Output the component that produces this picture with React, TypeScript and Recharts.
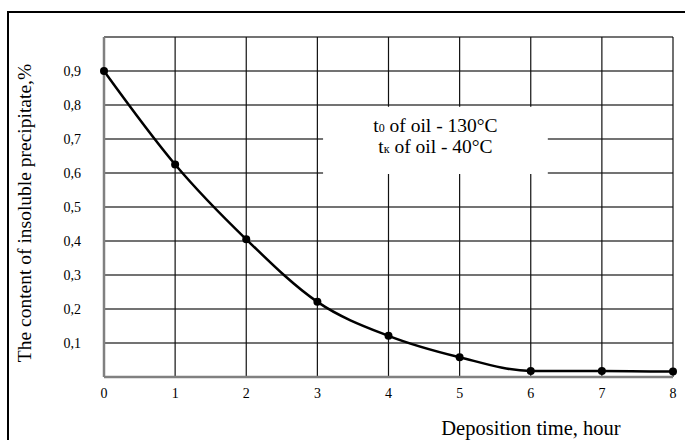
import { LineChart, Line, XAxis, YAxis, CartesianGrid, ReferenceArea } from "recharts";

// deposition time, hours
const hours = [0, 1, 2, 3, 4, 5, 6, 7, 8];
// insoluble precipitate content, %
const precipitate = [0.9, 0.625, 0.405, 0.221, 0.121, 0.058, 0.018, 0.018, 0.016];
const yTicks = [0, 0.1, 0.2, 0.3, 0.4, 0.5, 0.6, 0.7, 0.8, 0.9, 1.0];
const yLabels = ["", "0,1", "0,2", "0,3", "0,4", "0,5", "0,6", "0,7", "0,8", "0,9", ""];

const data = hours.map((h, i) => ({ h, v: precipitate[i] }));

const serif = "'Liberation Serif', 'Times New Roman', serif";

const NoteLabel = (props: any) => {
  const vb = props.viewBox || {};
  const cx = vb.x + vb.width / 2;
  const cy = vb.y + vb.height / 2;
  return (
    <text x={cx} y={cy} textAnchor="middle" fontFamily={serif} fontSize={19.5} fill="#000">
      <tspan x={cx} dy={-8}>
        t<tspan fontSize={12}>0</tspan> of oil - 130°C
      </tspan>
      <tspan x={cx} dy={21}>
        t<tspan fontSize={12}>к</tspan> of oil - 40°C
      </tspan>
    </text>
  );
};

const XTick = (props: any) => {
  const { x, y, payload } = props;
  return (
    <text x={x} y={y + 21} textAnchor="middle" fontFamily={serif} fontSize={14} fill="#000">
      {payload.value}
    </text>
  );
};

const YTick = (props: any) => {
  const { x, y, payload } = props;
  const label = yLabels[yTicks.indexOf(payload.value)] ?? "";
  return (
    <text x={x} y={y + 4.5} textAnchor="end" fontFamily={serif} fontSize={14} fill="#000">
      {label}
    </text>
  );
};

export default function App() {
  return (
    <div
      style={{
        position: "absolute",
        left: 0,
        top: 0,
        width: 685,
        height: 440,
        background: "#fff",
        overflow: "hidden",
      }}
    >
      <div
        style={{
          position: "absolute",
          left: 7,
          top: 11,
          width: 700,
          height: 460,
          borderLeft: "2px solid #000",
          borderTop: "2px solid #000",
        }}
      />
      <LineChart
        width={685}
        height={440}
        data={data}
        margin={{ top: 37, right: 12, bottom: 33, left: 8 }}
        style={{ position: "absolute", left: 0, top: 0 }}
      >
        <CartesianGrid vertical={false} stroke="#444" strokeWidth={1.5} />
        <CartesianGrid horizontal={false} stroke="#111" strokeWidth={1.2} />
        <ReferenceArea
          x1={3.08}
          x2={6.24}
          y1={0.597}
          y2={0.795}
          fill="#fff"
          fillOpacity={1}
          stroke="none"
          label={<NoteLabel />}
        />
        <XAxis
          dataKey="h"
          type="number"
          domain={[0, 8]}
          ticks={hours}
          interval={0}
          tickLine={false}
          tickSize={0}
          tickMargin={0}
          height={30}
          stroke="#808080"
          strokeWidth={2.5}
          tick={<XTick />}
          label={{
            content: () => (
              <text x={531} y={435} textAnchor="middle" fontFamily={serif} fontSize={20.5} fill="#000">
                Deposition time, hour
              </text>
            ),
          }}
        />
        <YAxis
          type="number"
          domain={[0, 1]}
          ticks={yTicks}
          interval={0}
          width={96}
          tickLine={false}
          tickSize={0}
          tickMargin={23}
          stroke="#808080"
          strokeWidth={2.5}
          tick={<YTick />}
          label={{
            content: () => (
              <text
                x={24}
                y={213}
                transform="rotate(-90 24 213)"
                textAnchor="middle"
                dominantBaseline="central"
                fontFamily={serif}
                fontSize={19.5}
                fill="#000"
              >
                The content of insoluble precipitate,%
              </text>
            ),
          }}
        />
        <Line
          type="monotone"
          dataKey="v"
          stroke="#000"
          strokeWidth={2.5}
          dot={{ r: 4, fill: "#000", stroke: "#000", strokeWidth: 0 }}
          isAnimationActive={false}
        />
      </LineChart>
    </div>
  );
}
